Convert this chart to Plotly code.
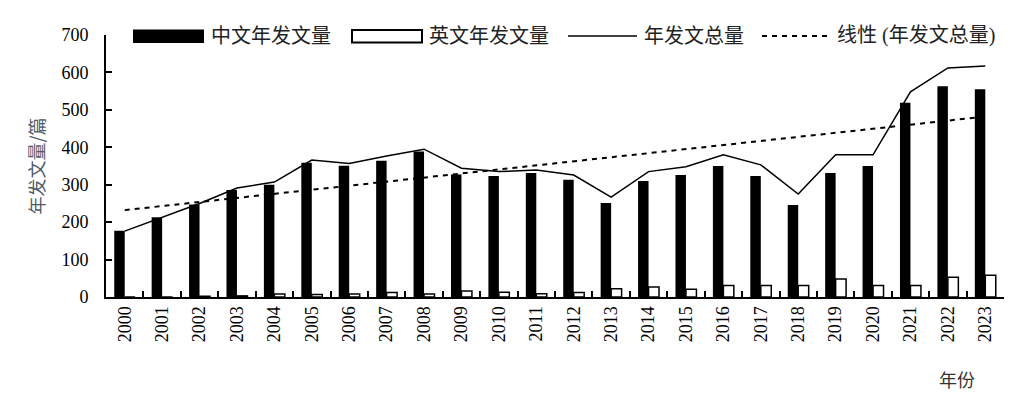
import numpy as np
import plotly.graph_objects as go

years = [str(y) for y in range(2000, 2024)]
cn_counts = [177, 213, 247, 286, 300, 359, 351, 364, 389, 327, 323, 331, 313, 251, 310, 326, 350, 323, 246, 331, 350, 519, 563, 555]
en_counts = [0, 0, 2, 3, 8, 7, 8, 12, 8, 16, 13, 9, 12, 22, 27, 21, 31, 31, 31, 48, 31, 31, 53, 58]
total_counts = [176, 213, 250, 291, 307, 366, 357, 377, 395, 344, 335, 339, 326, 267, 335, 348, 380, 353, 275, 380, 380, 548, 612, 617]
y_ticks = [0, 100, 200, 300, 400, 500, 600, 700]

idx = np.arange(len(total_counts))
coef = np.polyfit(idx, total_counts, 1)
trend = list(np.polyval(coef, idx))

SERIF = "Liberation Serif, Noto Sans CJK SC"
CJK = "Noto Sans CJK SC"

W, H = 1031, 397
L, R, T, B = 106, 27, 35, 100
PW, PH = W - L - R, H - T - B


def px(xp):
    return (xp - L) / PW


def py(yp):
    return (H - B - yp) / PH


fig = go.Figure()
fig.add_trace(go.Bar(x=years, y=cn_counts, name="中文年发文量",
                     marker=dict(color="black", line=dict(color="black", width=0))))
fig.add_trace(go.Bar(x=years, y=en_counts, name="英文年发文量",
                     marker=dict(color="white", line=dict(color="black", width=1.5))))
fig.add_trace(go.Scatter(x=years, y=total_counts, name="年发文总量", mode="lines",
                         line=dict(color="black", width=1.5)))
fig.add_trace(go.Scatter(x=years, y=trend, name="线性(年发文总量)", mode="lines",
                         line=dict(color="black", width=2, dash="5px,5px")))

shapes = []
annotations = []
# manual legend
ly = 36
shapes.append(dict(type="rect", xref="paper", yref="paper", x0=px(133), x1=px(204),
                   y0=py(43), y1=py(29.5), fillcolor="black", line=dict(width=0)))
shapes.append(dict(type="rect", xref="paper", yref="paper", x0=px(352), x1=px(422),
                   y0=py(42.5), y1=py(30), fillcolor="white", line=dict(color="black", width=2)))
shapes.append(dict(type="line", xref="paper", yref="paper", x0=px(568), x1=px(637),
                   y0=py(ly), y1=py(ly), line=dict(color="black", width=1.5)))
shapes.append(dict(type="line", xref="paper", yref="paper", x0=px(762), x1=px(830),
                   y0=py(ly), y1=py(ly), line=dict(color="black", width=2, dash="5px,5px")))
for xs, txt in [(209, "中文年发文量"), (427, "英文年发文量"), (642, "年发文总量"), (835, "线性 (年发文总量)")]:
    annotations.append(dict(xref="paper", yref="paper", x=px(xs), y=py(ly), text=txt,
                            showarrow=False, xanchor="left", yanchor="middle",
                            font=dict(family=SERIF, size=20, color="#222222")))

annotations.append(dict(xref="paper", yref="paper", x=px(957), y=py(379), text="年份",
                        showarrow=False, xanchor="center", yanchor="middle",
                        font=dict(family=CJK, size=18, color="#333333")))

fig.update_layout(
    width=W, height=H,
    margin=dict(l=L, r=R, t=T, b=B, autoexpand=False),
    paper_bgcolor="white", plot_bgcolor="white",
    showlegend=False,
    barmode="group", bargap=0.44, bargroupgap=0,
    shapes=shapes, annotations=annotations,
    font=dict(family=SERIF, color="black"),
)
fig.update_xaxes(
    type="category", showgrid=False, showline=True, linecolor="black", linewidth=2,
    ticks="inside", tickson="boundaries", ticklen=6, tickcolor="black", tickwidth=1.5,
    tickangle=-90, tickfont=dict(family=SERIF, size=18, color="black"), automargin=False,
)
fig.update_yaxes(
    range=[0, 700], tickvals=y_ticks, showgrid=False, zeroline=False,
    showline=True, linecolor="black", linewidth=2,
    ticks="inside", ticklen=6, tickcolor="black", tickwidth=1.5,
    tickfont=dict(family=SERIF, size=18, color="black"), ticklabelstandoff=12, automargin=False,
    title=dict(text="年发文量/篇", font=dict(family=CJK, size=18, color="#4d5a68"), standoff=12),
)

fig.write_html("out.html", config={"displayModeBar": False},
               post_script="document.body.style.margin='0';")
